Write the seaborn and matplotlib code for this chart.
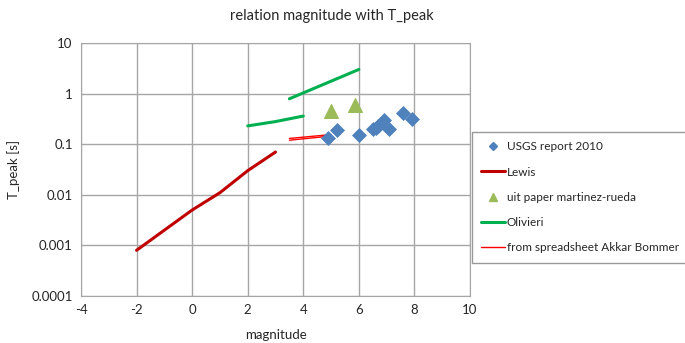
import numpy as np
import pandas as pd
import matplotlib
matplotlib.use("Agg")
import matplotlib.pyplot as plt
from matplotlib.lines import Line2D
import seaborn as sns

# data
usgs_mag = [4.9, 5.2, 6.0, 6.5, 6.6, 6.7, 6.9, 7.1, 7.6, 7.9]
usgs_tp = [0.13, 0.195, 0.155, 0.2, 0.21, 0.23, 0.3, 0.2, 0.41, 0.32]

lewis_mag = [-2, 0, 1, 2, 3]
lewis_tp = [0.0008, 0.005, 0.011, 0.03, 0.07]

martinez_mag = [5.0, 5.85]
martinez_tp = [0.45, 0.6]

olivieri_mag = [2, 3, 4, 3.5, 6]
olivieri_tp = [0.23, 0.28, 0.36, 0.79, 3.0]
olivieri_seg = [0, 0, 0, 1, 1]

akkar_mag = [3.5, 5.0, 3.5, 5.0]
akkar_tp = [0.13, 0.155, 0.12, 0.145]
akkar_seg = [0, 0, 1, 1]

sns.set_style("white")
plt.rcParams['font.family'] = ['Lato', 'DejaVu Sans']
plt.rcParams['axes.unicode_minus'] = False

fig = plt.figure(figsize=(6.85, 3.43), dpi=100)
ax = fig.add_axes([81/685, 1-296/343, (470-81)/685, (296-43)/343])

blue = "#4F81BD"
darkred = "#C00000"
olive = "#9BBB59"
green = "#00B050"
red = "#FF0000"

lewis = pd.DataFrame({"m": lewis_mag, "t": lewis_tp})
sns.lineplot(data=lewis, x="m", y="t", color=darkred, lw=2.2, ax=ax, sort=False)

oliv = pd.DataFrame({"m": olivieri_mag, "t": olivieri_tp, "s": olivieri_seg})
sns.lineplot(data=oliv, x="m", y="t", units="s", estimator=None, color=green,
             lw=2.2, ax=ax, sort=False)

akk = pd.DataFrame({"m": akkar_mag, "t": akkar_tp, "s": akkar_seg})
sns.lineplot(data=akk, x="m", y="t", units="s", estimator=None, color=red,
             lw=1.0, ax=ax, sort=False)

sns.scatterplot(x=usgs_mag, y=usgs_tp, marker="D", s=50, color=blue,
                edgecolor=blue, ax=ax, zorder=5)
sns.scatterplot(x=martinez_mag, y=martinez_tp, marker="^", s=100, color=olive,
                edgecolor=olive, ax=ax, zorder=5)

ax.set_yscale("log")
ax.set_xlim(-4, 10)
ax.set_ylim(0.0001, 10)
ax.set_xticks(range(-4, 11, 2))
ax.set_yticks([0.0001, 0.001, 0.01, 0.1, 1, 10])
ax.set_yticklabels(["0.0001", "0.001", "0.01", "0.1", "1", "10"])
ax.minorticks_off()
ax.grid(True, color="#A6A6A6", lw=1)
for s in ax.spines.values():
    s.set_color("#A6A6A6")
ax.tick_params(labelsize=9.5, length=0, pad=6)

ax.set_xlabel("magnitude", fontsize=9.5, labelpad=9)
ax.set_ylabel("T_peak [s]", fontsize=9.5, labelpad=8)
fig.text(332/685, 1-16/343, "relation magnitude with T_peak", ha="center",
         va="center", fontsize=10.5)

# legend built by hand so the order and handle styles match
handles = [
    Line2D([], [], ls="none", marker="D", color=blue, ms=4),
    Line2D([], [], color=darkred, lw=2.2),
    Line2D([], [], ls="none", marker="^", color=olive, ms=6),
    Line2D([], [], color=green, lw=2.2),
    Line2D([], [], color=red, lw=1.0),
]
labels = ["USGS report 2010", "Lewis", "uit paper martinez-rueda", "Olivieri",
          "from spreadsheet Akkar Bommer"]
leg = fig.legend(handles, labels, loc="upper left",
                 bbox_to_anchor=(472/685, 1-132/343), fontsize=8.5,
                 frameon=True, fancybox=False, edgecolor="#808080",
                 handlelength=2.0, handletextpad=0.15, labelspacing=1.2,
                 borderpad=0.8, borderaxespad=0)
leg.get_frame().set_linewidth(1.0)

fig.savefig("out.png", dpi=100)
